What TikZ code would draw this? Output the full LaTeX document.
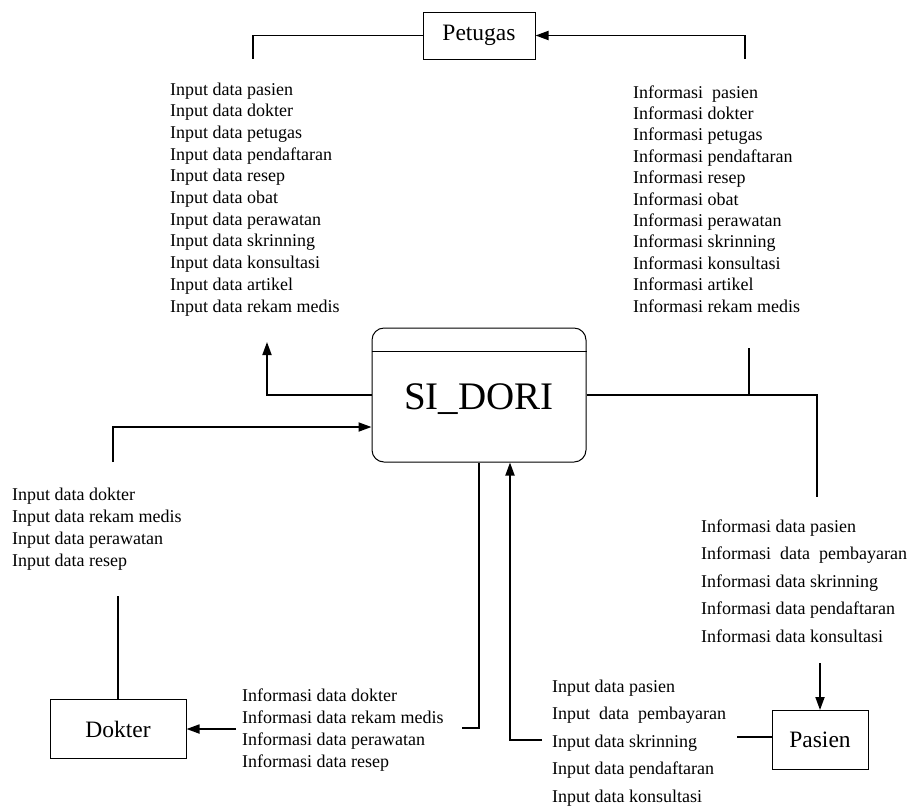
\documentclass[tikz,border=0pt]{standalone}
\usepackage{fontspec}
\setmainfont{Liberation Serif}
\usetikzlibrary{arrows.meta}
\begin{document}
\begin{tikzpicture}[x=1pt,y=-1pt,
  conn/.style={line width=1.8pt},
  arr/.style={conn,-{Triangle[length=13pt,width=9pt]}},
  ent/.style={draw,line width=1pt,inner sep=0pt,font=\fontsize{23.5}{28}\selectfont},
  lbl/.style={font=\fontsize{18}{21.6}\selectfont,inner sep=0pt,anchor=base west}]
\useasboundingbox (0,0) rectangle (912,807);

% entities
\node[ent,minimum width=112pt,minimum height=47pt] (pet) at (479,35.5) {Petugas};
\node[ent,minimum width=136pt,minimum height=59pt] (dok) at (118,729) {Dokter};
\node[ent,minimum width=96pt,minimum height=59pt] (pas) at (820,740) {Pasien};

% system
\node[draw,line width=1pt,rounded corners=12pt,minimum width=214pt,minimum height=134pt] (sys) at (479,395) {};
\draw[line width=1pt] ([yshift=-24pt]sys.north west) -- ([yshift=-24pt]sys.north east);
\node[inner sep=0pt,anchor=base,font=\fontsize{39}{46}\selectfont] (sysl) at (479,409) {SI\_DORI};

% label blocks
\foreach \t [count=\i] in {Input data pasien,Input data dokter,Input data petugas,Input data pendaftaran,Input data resep,Input data obat,Input data perawatan,Input data skrinning,Input data konsultasi,Input data artikel,Input data rekam medis}
  {\node[lbl,name=a\i] at (170,{95+21.7*(\i-1)}) {\t};}
\foreach \t [count=\i] in {Informasi\ \ pasien,Informasi dokter,Informasi petugas,Informasi pendaftaran,Informasi resep,Informasi obat,Informasi perawatan,Informasi skrinning,Informasi konsultasi,Informasi artikel,Informasi rekam medis}
  {\node[lbl,name=b\i] at (633,{98+21.4*(\i-1)}) {\t};}
\foreach \t [count=\i] in {Input data dokter,Input data rekam medis,Input data perawatan,Input data resep}
  {\node[lbl,name=c\i] at (12,{500+22*(\i-1)}) {\t};}
\foreach \t [count=\i] in {Informasi data dokter,Informasi data rekam medis,Informasi data perawatan,Informasi data resep}
  {\node[lbl,name=d\i] at (242,{701+22.2*(\i-1)}) {\t};}
\foreach \t [count=\i] in {Informasi data pasien,Informasi\ \ data\ \ pembayaran,Informasi data skrinning,Informasi data pendaftaran,Informasi data konsultasi}
  {\node[lbl,name=e\i] at (701,{532+27.5*(\i-1)}) {\t};}
\foreach \t [count=\i] in {Input data pasien,Input\ \ data\ \ pembayaran,Input data skrinning,Input data pendaftaran,Input data konsultasi}
  {\node[lbl,name=f\i] at (552,{692+27.5*(\i-1)}) {\t};}

% free ends of connectors
\coordinate (k1) at (253,59);
\coordinate (k2) at (745,59);
\coordinate (k3) at (267,342);
\coordinate (k4) at (113,462);
\coordinate (k5) at (118,596);
\coordinate (k6) at (817,497);
\coordinate (k7) at (749,348);
\coordinate (k8) at (820,663);
\coordinate (k9) at (462,728);
\coordinate (k10) at (236,729);
\coordinate (k11) at (542,740);
\coordinate (k12) at (737,737);

% connectors
\draw[conn] (pet.west) -| (k1);
\draw[arr] (k2) |- (pet.east);
\draw[arr] (sys.west) -| (k3);
\draw[arr] (k4) |- ([yshift=-32pt]sys.west);
\draw[conn] (dok.north) -- (k5);
\draw[conn] (sys.east) -| (k6);
\draw[conn] (k7) -- (k7 |- sys.east);
\draw[arr] (k8) -- (pas.north);
\draw[conn] (sys.south) |- (k9);
\draw[arr] (k10) -- (dok.east);
\draw[arr] (k11) -| ([xshift=31pt]sys.south);
\draw[conn] (k12) -- (k12 -| pas.west);
\end{tikzpicture}
\end{document}
